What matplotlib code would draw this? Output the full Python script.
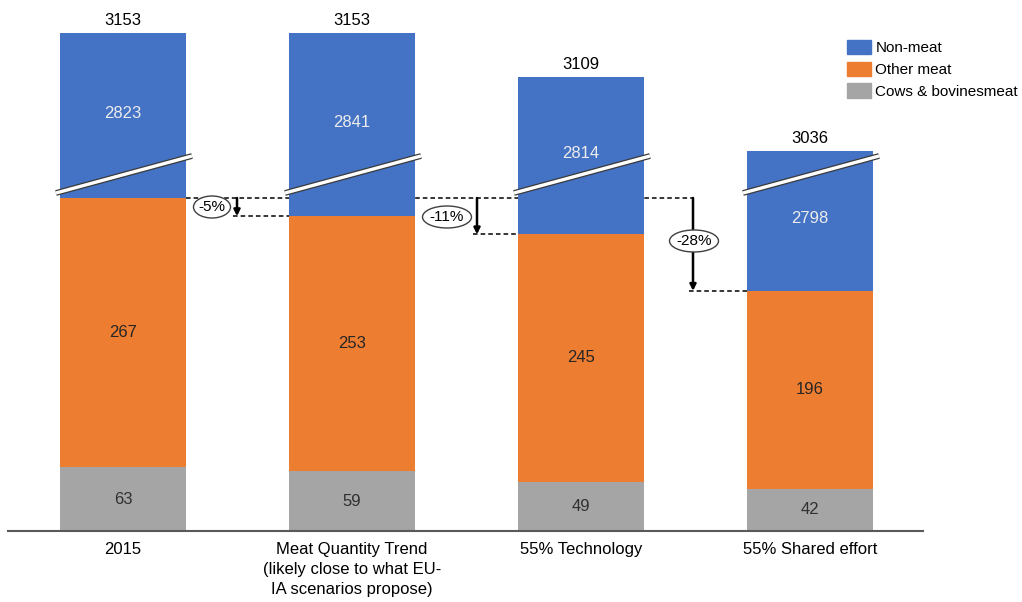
import matplotlib
matplotlib.use("Agg")
from matplotlib import pyplot as plt
from matplotlib import font_manager
from matplotlib.patches import Patch, Ellipse

# Data (in the units of the original)
categories = ['2015', 'Meat Quantity Trend\n(likely close to what EU-\nIA scenarios propose)',
              '55% Technology', '55% Shared effort']
cows = [63, 59, 49, 42]
other_meat = [267, 253, 245, 196]
non_meat = [2823, 2841, 2814, 2798]
totals = [3153, 3153, 3109, 3036]
pct_labels = ['-5%', '-11%', '-28%']

# broken axis: non-meat part is drawn shifted down by this amount
BREAK_OFFSET = 2659

c_blue = '#4472C4'
c_orange = '#ED7D31'
c_gray = '#A5A5A5'

names = {f.name for f in font_manager.fontManager.ttflist}
font = 'Liberation Sans Narrow' if 'Liberation Sans Narrow' in names else 'Liberation Sans'
plt.rcParams['font.family'] = [font, 'DejaVu Sans']

fig = plt.figure(figsize=(10.22, 6.02), dpi=100)
px = 1.009  # pixels per unit
ax = fig.add_axes([8/1022, 71/602, 915/1022, 531/602])
ax.set_ylim(0, 531/px)
ax.set_xlim((8-123)/229, (923-123)/229)

x = list(range(len(categories)))
w = 126/229
meat = [c + o for c, o in zip(cows, other_meat)]
shown_non_meat = [t - BREAK_OFFSET - m for t, m in zip(totals, meat)]

ax.bar(x, cows, w, color=c_gray, zorder=2)
ax.bar(x, other_meat, w, bottom=cows, color=c_orange, zorder=2)
ax.bar(x, shown_non_meat, w, bottom=meat, color=c_blue, zorder=2)

# value labels
for i in x:
    ax.text(i, cows[i]/2, str(cows[i]), ha='center', va='center', fontsize=12, color='#303030', zorder=5)
    ax.text(i, cows[i] + other_meat[i]/2, str(other_meat[i]), ha='center', va='center',
            fontsize=12, color='#262626', zorder=5)
    ax.text(i, meat[i] + shown_non_meat[i]/2 + 2/px, str(non_meat[i]), ha='center', va='center',
            fontsize=12, color='#EDEDED', zorder=5)
    ax.text(i, totals[i] - BREAK_OFFSET + 12/px, str(totals[i]), ha='center', va='center',
            fontsize=12, color='black', zorder=5)

# break marks
y0, y1 = (531-193)/px, (531-156)/px
for i in x:
    xs = [i - w/2 - 4/229, i + w/2 + 6/229]
    ax.plot(xs, [y0, y1], color='#3a3a3a', lw=4.2, solid_capstyle='butt', zorder=4)
    ax.plot(xs, [y0, y1], color='white', lw=2.4, solid_capstyle='butt', zorder=4)

# reference lines and reduction arrows
arrow_x = [(237-123)/229, (477-123)/229, (693-123)/229]
label_x = [(212-123)/229, (447-123)/229, (694-123)/229]
label_y = [(531-207)/px, (531-217)/px, (531-241)/px]
ell_w = [37, 49, 49]
ax.plot([w/2, arrow_x[-1]], [meat[0], meat[0]], ls=(0, (3, 2)), color='black', lw=1.1, zorder=1)
for k in range(3):
    i = k + 1
    ax.plot([arrow_x[k] - 4/229, i - w/2], [meat[i], meat[i]], ls=(0, (3, 2)),
            color='black', lw=1.1, zorder=1)
    ax.annotate('', xy=(arrow_x[k], meat[i]), xytext=(arrow_x[k], meat[0]),
                arrowprops=dict(arrowstyle='-|>', color='black', lw=1.8,
                                mutation_scale=9, shrinkA=0, shrinkB=0), zorder=3)
    ax.add_patch(Ellipse((label_x[k], label_y[k]), ell_w[k]/229, 22/px, facecolor='white',
                         edgecolor='#404040', lw=1.0, zorder=6))
    ax.text(label_x[k], label_y[k], pct_labels[k], ha='center', va='center', fontsize=11, zorder=7)

for s in ['top', 'right', 'left']:
    ax.spines[s].set_visible(False)
ax.spines['bottom'].set_color('#595959')
ax.spines['bottom'].set_linewidth(1.5)
ax.set_yticks([])
ax.set_xticks(x)
ax.set_xticklabels(categories, fontsize=12, linespacing=1.4)
ax.tick_params(axis='x', length=0, pad=8)

handles = [Patch(color=c_blue), Patch(color=c_orange), Patch(color=c_gray)]
fig.legend(handles, ['Non-meat', 'Other meat', 'Cows & bovinesmeat'],
           loc='upper left', bbox_to_anchor=(847/1022, 1 - 40/602), frameon=False,
           fontsize=11, handlelength=1.55, handleheight=1.05, labelspacing=0.42,
           handletextpad=0.3, borderpad=0, borderaxespad=0)

fig.savefig('out.png', dpi=100)
